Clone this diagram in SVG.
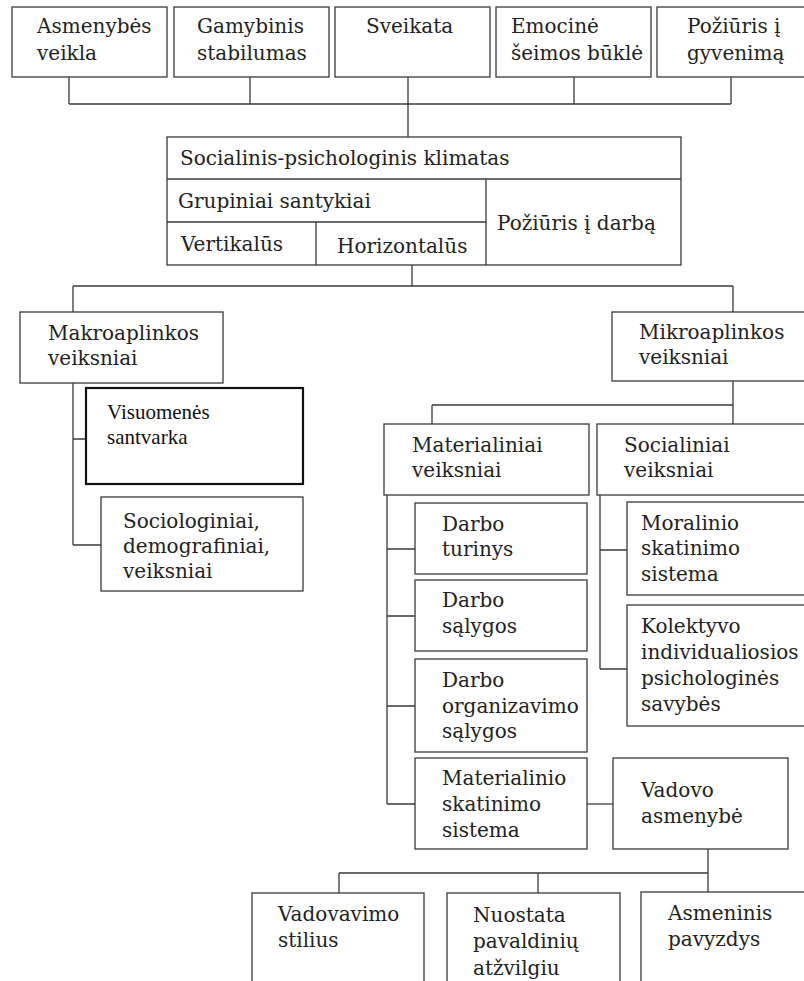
<svg xmlns="http://www.w3.org/2000/svg" width="804" height="981" viewBox="0 0 804 981">
<style>
  .box { fill: #ffffff; stroke: #3a3a3a; stroke-width: 1.3; }
  .thick { fill: #ffffff; stroke: #111111; stroke-width: 2.2; }
  .t { font-family: "DejaVu Serif", "Liberation Serif", serif; font-size: 20px; fill: #222222; }
  .tt { font-family: "Liberation Serif", "Times New Roman", serif; font-size: 21px; fill: #111111; }
  .conn { fill: none; stroke: #3a3a3a; stroke-width: 1.3; }
</style>
<rect x="0" y="0" width="804" height="981" fill="#ffffff"/>

<g id="connectors">
  <path class="conn" d="M69 77 V104 M250 77 V104 M408 77 V137 M574 77 V104 M731 77 V104 M69 104 H731"/>
  <path class="conn" d="M412 265 V286 M73 286 H733 M73 286 V312 M733 286 V312"/>
  <path class="conn" d="M73 383 V545 M73 439 H86 M73 545 H101"/>
  <path class="conn" d="M733 381 V424 M432 405 H733 M432 405 V424"/>
  <path class="conn" d="M387 495 V804 M387 549 H415 M387 616 H415 M387 706 H415 M387 804 H415"/>
  <path class="conn" d="M600 495 V669 M600 550 H627 M600 669 H627"/>
  <path class="conn" d="M587 804 H613"/>
  <path class="conn" d="M708 849 V893 M339 873 H708 M339 873 V893 M538 873 V893"/>
</g>

<g id="n-asmenybes-veikla">
  <rect class="box" x="12" y="7" width="155" height="70"/>
  <text class="t" x="37" y="33">Asmenybės</text>
  <text class="t" x="37" y="60">veikla</text>
</g>
<g id="n-gamybinis">
  <rect class="box" x="174" y="7" width="155" height="70"/>
  <text class="t" x="197" y="33">Gamybinis</text>
  <text class="t" x="197" y="60">stabilumas</text>
</g>
<g id="n-sveikata">
  <rect class="box" x="335" y="7" width="155" height="70"/>
  <text class="t" x="366" y="33">Sveikata</text>
</g>
<g id="n-emocine">
  <rect class="box" x="496" y="7" width="155" height="70"/>
  <text class="t" x="511" y="33">Emocinė</text>
  <text class="t" x="511" y="60">šeimos būklė</text>
</g>
<g id="n-poziuris-gyvenima">
  <rect class="box" x="657" y="7" width="160" height="70"/>
  <text class="t" x="687" y="33">Požiūris į</text>
  <text class="t" x="687" y="60">gyvenimą</text>
</g>

<g id="n-klimatas">
  <rect class="box" x="167" y="137" width="514" height="128"/>
  <path class="conn" d="M167 179 H681 M167 222 H486 M486 179 V265 M316 222 V265"/>
  <text class="t" x="180" y="165">Socialinis-psichologinis klimatas</text>
  <text class="t" x="178" y="208">Grupiniai santykiai</text>
  <text class="t" x="181" y="251">Vertikalūs</text>
  <text class="t" x="337" y="253">Horizontalūs</text>
  <text class="t" x="497" y="230">Požiūris į darbą</text>
</g>

<g id="n-makro">
  <rect class="box" x="20" y="312" width="203" height="71"/>
  <text class="t" x="48" y="340">Makroaplinkos</text>
  <text class="t" x="48" y="365">veiksniai</text>
</g>
<g id="n-visuomenes">
  <rect class="thick" x="86" y="388" width="217" height="96"/>
  <text class="tt" x="107" y="419">Visuomenės</text>
  <text class="tt" x="107" y="444">santvarka</text>
</g>
<g id="n-sociologiniai">
  <rect class="box" x="101" y="497" width="202" height="94"/>
  <text class="t" x="123" y="528">Sociologiniai,</text>
  <text class="t" x="123" y="553">demografiniai,</text>
  <text class="t" x="123" y="578">veiksniai</text>
</g>

<g id="n-mikro">
  <rect class="box" x="612" y="312" width="205" height="69"/>
  <text class="t" x="639" y="339">Mikroaplinkos</text>
  <text class="t" x="639" y="364">veiksniai</text>
</g>
<g id="n-materialiniai">
  <rect class="box" x="384" y="424" width="205" height="71"/>
  <text class="t" x="412" y="452">Materialiniai</text>
  <text class="t" x="412" y="477">veiksniai</text>
</g>
<g id="n-socialiniai">
  <rect class="box" x="597" y="424" width="220" height="71"/>
  <text class="t" x="624" y="452">Socialiniai</text>
  <text class="t" x="624" y="477">veiksniai</text>
</g>

<g id="n-darbo-turinys">
  <rect class="box" x="415" y="503" width="172" height="71"/>
  <text class="t" x="442" y="531">Darbo</text>
  <text class="t" x="442" y="556">turinys</text>
</g>
<g id="n-darbo-salygos">
  <rect class="box" x="415" y="580" width="172" height="71"/>
  <text class="t" x="442" y="607">Darbo</text>
  <text class="t" x="442" y="633">sąlygos</text>
</g>
<g id="n-darbo-organizavimo">
  <rect class="box" x="415" y="659" width="172" height="93"/>
  <text class="t" x="442" y="687">Darbo</text>
  <text class="t" x="442" y="713">organizavimo</text>
  <text class="t" x="442" y="738">sąlygos</text>
</g>
<g id="n-materialinio-skatinimo">
  <rect class="box" x="415" y="758" width="172" height="91"/>
  <text class="t" x="442" y="785">Materialinio</text>
  <text class="t" x="442" y="811">skatinimo</text>
  <text class="t" x="442" y="837">sistema</text>
</g>
<g id="n-vadovo-asmenybe">
  <rect class="box" x="613" y="758" width="175" height="91"/>
  <text class="t" x="641" y="797">Vadovo</text>
  <text class="t" x="641" y="823">asmenybė</text>
</g>

<g id="n-moralinio">
  <rect class="box" x="627" y="502" width="190" height="93"/>
  <text class="t" x="641" y="530">Moralinio</text>
  <text class="t" x="641" y="555">skatinimo</text>
  <text class="t" x="641" y="581">sistema</text>
</g>
<g id="n-kolektyvo">
  <rect class="box" x="627" y="605" width="190" height="121"/>
  <text class="t" x="641" y="633">Kolektyvo</text>
  <text class="t" x="641" y="659">individualiosios</text>
  <text class="t" x="641" y="685">psichologinės</text>
  <text class="t" x="641" y="711">savybės</text>
</g>

<g id="n-vadovavimo-stilius">
  <rect class="box" x="252" y="893" width="172" height="100"/>
  <text class="t" x="278" y="921">Vadovavimo</text>
  <text class="t" x="278" y="947">stilius</text>
</g>
<g id="n-nuostata">
  <rect class="box" x="447" y="893" width="173" height="100"/>
  <text class="t" x="473" y="922">Nuostata</text>
  <text class="t" x="473" y="948">pavaldinių</text>
  <text class="t" x="473" y="975">atžvilgiu</text>
</g>
<g id="n-asmeninis-pavyzdys">
  <rect class="box" x="641" y="892" width="176" height="100"/>
  <text class="t" x="668" y="920">Asmeninis</text>
  <text class="t" x="668" y="946">pavyzdys</text>
</g>
</svg>
